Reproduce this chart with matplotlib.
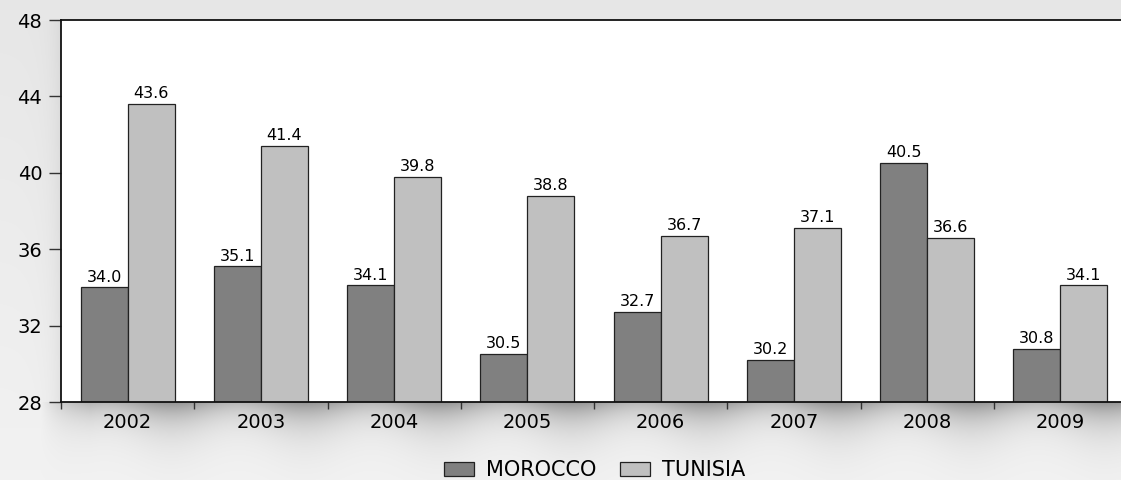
import numpy as np
import matplotlib
matplotlib.use("Agg")
import matplotlib.pyplot as plt
from matplotlib.patches import Patch

years = ["2002", "2003", "2004", "2005", "2006", "2007", "2008", "2009"]
morocco = [34.0, 35.1, 34.1, 30.5, 32.7, 30.2, 40.5, 30.8]
tunisia = [43.6, 41.4, 39.8, 38.8, 36.7, 37.1, 36.6, 34.1]
series_names = ["MOROCCO", "TUNISIA"]
yticks = [28, 32, 36, 40, 44, 48]

plt.rcParams['font.family'] = ['DejaVu Sans']

W, H = 1121, 480
fig = plt.figure(figsize=(W / 100, H / 100), dpi=100)

# ---- decorative background with soft shadow ----
ax_l, ax_t, ax_b = 61.0, 20.0, 402.0
yy, xx = np.mgrid[0:H, 0:W].astype(float)
img = 0.905 + 0.045 * (yy / H)
d = yy - ax_b
mod = 0.82 + 0.18 * np.cos(2 * np.pi * (xx - ax_l - 110) / 133.3)
edge = np.clip((xx - 40) / 50.0, 0, 1)
depth = 19.0 + 12.0 * (mod - 0.82)
shadow = np.where(d >= 0, 0.36 * np.exp(-np.clip(d, 0, None) / depth) * mod * edge, 0.0)
img = img - shadow
left = (xx < ax_l) & (yy > ax_t) & (yy < ax_b)
img = np.where(left, img - 0.06 * np.exp(-(ax_l - xx) / 10.0), img)
img = np.clip(img, 0, 1)
rgb = np.dstack([img, img, img])

bg = fig.add_axes([0, 0, 1, 1], zorder=-5)
bg.imshow(rgb, aspect="auto", extent=(0, W, H, 0), interpolation="nearest")
bg.set_xlim(0, W)
bg.set_ylim(H, 0)
bg.axis("off")

# ---- main axes ----
ax = fig.add_axes([ax_l / W, 1 - ax_b / H, (1127 - ax_l) / W, (ax_b - ax_t) / H])
ax.set_facecolor("white")

x = np.arange(len(years))
w = 0.352
b1 = ax.bar(x - w / 2, morocco, w, color="#808080",
            edgecolor="#222222", linewidth=0.9, label=series_names[0])
b2 = ax.bar(x + w / 2, tunisia, w, color="#c0c0c0",
            edgecolor="#222222", linewidth=0.9, label=series_names[1])

ax.bar_label(b1, labels=[f"{v:.1f}" for v in morocco], padding=2, fontsize=11.5)
ax.bar_label(b2, labels=[f"{v:.1f}" for v in tunisia], padding=2, fontsize=11.5)

ax.set_ylim(28, 48)
ax.set_xlim(-0.5, len(years) - 0.5)
ax.set_yticks(yticks)
ax.set_yticklabels([str(t) for t in yticks], fontsize=14)
ax.tick_params(axis="y", direction="out", length=8.5, width=1, pad=5, color="#333333")

ax.set_xticks(x)
ax.set_xticklabels(years, fontsize=14)
ax.tick_params(axis="x", which="major", length=0, pad=8)
ax.set_xticks(np.arange(-0.5, len(years), 1.0), minor=True)
ax.tick_params(axis="x", which="minor", direction="out", length=5, width=1, color="#333333")

for s in ["left", "top", "bottom"]:
    ax.spines[s].set_linewidth(1.3)
    ax.spines[s].set_color("#111111")
ax.spines["right"].set_visible(False)

handles = [Patch(facecolor="#808080", edgecolor="#222222", linewidth=0.9),
           Patch(facecolor="#c0c0c0", edgecolor="#222222", linewidth=0.9)]
fig.legend(handles, series_names, loc="center", bbox_to_anchor=(594.5 / W, 1 - 470 / H),
           ncol=2, frameon=False, fontsize=15, handlelength=1.45, handleheight=0.68,
           handletextpad=0.6, columnspacing=1.1, borderpad=0, borderaxespad=0)

fig.savefig("out.png", dpi=100)
